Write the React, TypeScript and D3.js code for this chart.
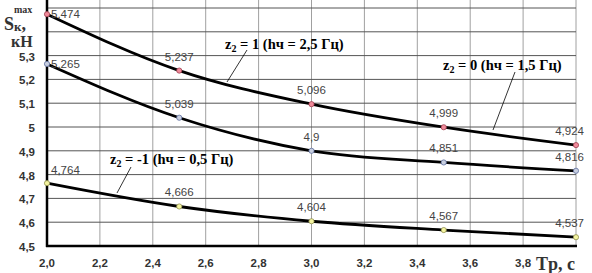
import React from "react";
import * as d3 from "d3";

const periods = [2.0, 2.5, 3.0, 3.5, 4.0];
const seriesZ1 = [5.474, 5.237, 5.096, 4.999, 4.924];
const seriesZ0 = [5.265, 5.039, 4.9, 4.851, 4.816];
const seriesZm1 = [4.764, 4.666, 4.604, 4.567, 4.537];
const yTicks = [4.5, 4.6, 4.7, 4.8, 4.9, 5, 5.1, 5.2, 5.3];
const yGrid = [4.6, 4.7, 4.8, 4.9, 5, 5.1, 5.2, 5.3, 5.4, 5.5];
const xTicks = [2.0, 2.2, 2.4, 2.6, 2.8, 3.0, 3.2, 3.4, 3.6, 3.8];
const xGrid = [2.2, 2.4, 2.6, 2.8, 3.0, 3.2, 3.4, 3.6, 3.8, 4.0];

const fmt = (v: number) => String(v).replace(".", ",");
const fmtTick = (v: number) => (v === 5 ? "5" : d3.format(".1f")(v).replace(".", ","));

export default function App() {
  const W = 592, H = 273;
  const x = d3.scaleLinear().domain([2.0, 4.0]).range([47, 576]);
  const y = d3.scaleLinear().domain([4.5, 5.5]).range([246, 8]);
  const line = d3
    .line<number>()
    .x((_, i) => x(periods[i]))
    .y((d) => y(d))
    .curve(d3.curveMonotoneX);

  const series = [
    { vals: seriesZ1, fill: "#f08a9a", stroke: "#a04050" },
    { vals: seriesZ0, fill: "#c8cfe0", stroke: "#6070a0" },
    { vals: seriesZm1, fill: "#f4f4a0", stroke: "#909050" },
  ];

  const serif = "'Liberation Serif', 'Times New Roman', serif";
  const sans = "'Liberation Sans', Arial, sans-serif";

  const label = (name: string, h: string, tx: number, ty: number) => (
    <text x={tx} y={ty} fontFamily={serif} fontWeight="bold" fontSize={14.5} fill="#000">
      z<tspan fontSize={10} dy={3}>2</tspan>
      <tspan dy={-3}>{` = ${name} (hч = ${h} Гц)`}</tspan>
    </text>
  );

  return (
    <svg width={W} height={H} style={{ position: "absolute", left: 0, top: 0, background: "#fff" }}>
      <rect x={0} y={0} width={W} height={H} fill="#fff" />
      {xGrid.map((v) => (
        <line key={"xg" + v} x1={x(v)} x2={x(v)} y1={0} y2={246} stroke="#a0a0a0" strokeWidth={1} />
      ))}
      {yGrid.map((v) => (
        <line key={"yg" + v} x1={47} x2={576} y1={y(v)} y2={y(v)} stroke="#555" strokeWidth={1} />
      ))}
      <line x1={47} x2={47} y1={0} y2={247} stroke="#000" strokeWidth={2.5} />
      <line x1={46} x2={577} y1={246} y2={246} stroke="#000" strokeWidth={2.5} />

      {yTicks.map((v) => (
        <text key={"yt" + v} x={35} y={y(v) + 5} textAnchor="end" fontFamily={sans} fontWeight="bold" fontSize={11.5} fill="#333">
          {fmtTick(v)}
        </text>
      ))}
      {xTicks.map((v) => (
        <text key={"xt" + v} x={x(v)} y={267} textAnchor="middle" fontFamily={sans} fontWeight="bold" fontSize={11.5} fill="#333">
          {fmtTick(v)}
        </text>
      ))}
      <text x={536} y={270} fontFamily={serif} fontWeight="bold" fontSize={18} fill="#333">
        Tр, с
      </text>

      <text x={14} y={13} fontFamily={serif} fontWeight="bold" fontSize={10} fill="#333">max</text>
      <text x={4} y={30} fontFamily={serif} fontWeight="bold" fontSize={18} fill="#333">
        S<tspan fontSize={13} dy={1}>к</tspan><tspan dy={-1}>,</tspan>
      </text>
      <text x={11} y={47} fontFamily={serif} fontWeight="bold" fontSize={16} fill="#333">кН</text>

      {series.map((s, si) => (
        <g key={"s" + si}>
          <path d={line(s.vals) || ""} fill="none" stroke="#000" strokeWidth={2.8} />
          {s.vals.map((v, i) => (
            <circle key={i} cx={x(periods[i])} cy={y(v)} r={2.6} fill={s.fill} stroke={s.stroke} strokeWidth={0.8} />
          ))}
          {s.vals.map((v, i) => {
            const first = i === 0;
            const last = i === s.vals.length - 1;
            const tx = first ? x(periods[i]) + 4 : last ? x(periods[i]) + 8 : x(periods[i]);
            const ty = first ? (si === 2 ? y(v) - 9 : y(v) + 4) : y(v) - 10;
            return (
              <text key={"l" + i} x={tx} y={ty} textAnchor={first ? "start" : last ? "end" : "middle"} fontFamily={sans} fontSize={11.5} fill="#444">
                {fmt(v)}
              </text>
            );
          })}
        </g>
      ))}

      {label("1", "2,5", 225, 49)}
      <line x1={247} y1={50} x2={227} y2={82} stroke="#000" strokeWidth={0.8} />
      {label("0", "1,5", 443, 70)}
      <line x1={515} y1={72} x2={493} y2={130} stroke="#000" strokeWidth={0.8} />
      {label("-1", "0,5", 110, 164)}
      <line x1={131} y1={167} x2={117} y2={193} stroke="#000" strokeWidth={0.8} />
    </svg>
  );
}
